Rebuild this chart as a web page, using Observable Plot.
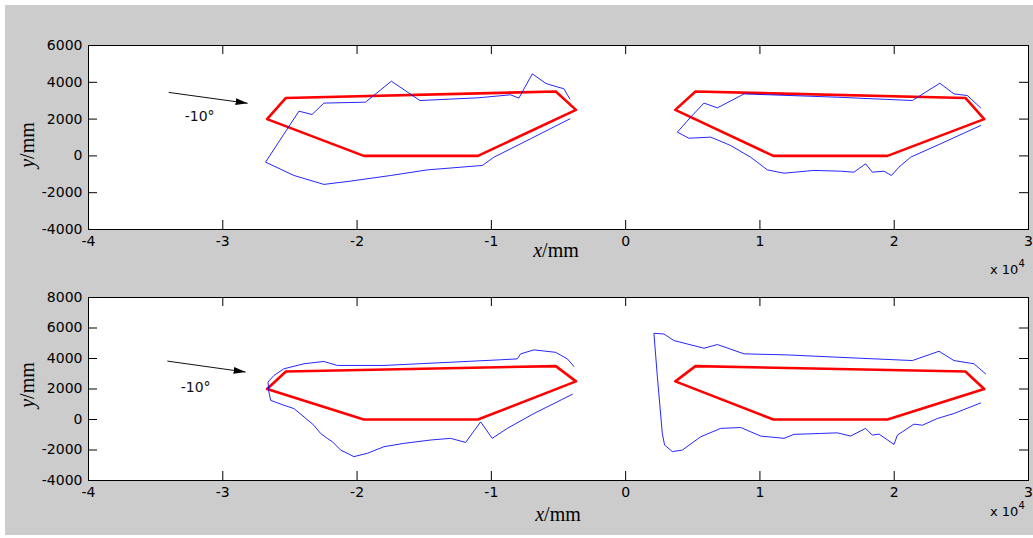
<!DOCTYPE html>
<html>
<head>
<meta charset="utf-8">
<script src="https://cdn.jsdelivr.net/npm/d3@7"></script>
<script src="https://cdn.jsdelivr.net/npm/@observablehq/plot@0.6"></script>
<style>
  body { margin: 0; background: white; }
  #fig { position: relative; width: 1033px; height: 538px; background: white; overflow: hidden; }
  #bg { position: absolute; left: 5px; top: 5px; width: 1028px; height: 530px; background: #cccccc; }
  .panel { position: absolute; left: 0; }
  .xlab, .ylab { position: absolute; font-family: "Liberation Serif", "Times New Roman", serif; font-size: 20px; color: #000; white-space: nowrap; line-height: 1; }
  .ylab { transform: translate(-50%, -50%) rotate(-90deg); }
  .xlab { transform: translate(-50%, 0); }
  .exp { position: absolute; font-family: "DejaVu Sans", Arial, sans-serif; font-size: 13px; color: #000; white-space: nowrap; line-height: 1; }
  .exp sup { font-size: 10px; position: relative; top: -2px; }
</style>
</head>
<body>
<div id="fig"><div id="bg"></div></div>
<script>
// ---- data ----
const xTicks = [-40000, -30000, -20000, -10000, 0, 10000, 20000, 30000];
const yTicksTop = [-4000, -2000, 0, 2000, 4000, 6000];
const yTicksBottom = [-4000, -2000, 0, 2000, 4000, 6000, 8000];

// red design outlines (same in both panels)
const redLeft = [[-26700,2000],[-25300,3150],[-5200,3500],[-3700,2500],[-11000,0],[-19500,0],[-26700,2000]];
const redRight = [[26700,2000],[25300,3150],[5200,3500],[3700,2500],[11000,0],[19500,0],[26700,2000]];

// blue measured outlines, top panel
const blueTopLeft = [[-4160,3100],[-4600,3650],[-5710,3880],[-5960,3950],[-6950,4460],[-7950,3140],[-8570,3320],[-10920,3160],[-15320,3010],[-17450,4060],[-19370,2920],[-22470,2870],[-23350,2250],[-24330,2430],[-26815,-340],[-24700,-1065],[-22470,-1550],[-20480,-1370],[-17500,-1065],[-14770,-760],[-10670,-520],[-9810,-70],[-7080,930],[-4150,2015]];
const blueTopRight = [[26435,2610],[25450,3280],[24450,3370],[23400,3950],[21350,3010],[15765,3190],[8815,3370],[6830,2610],[5835,2870],[4835,2100],[3850,1290],[4715,960],[6330,1020],[7820,565],[9300,-70],[9800,-340],[10550,-760],[11790,-940],[14020,-790],[16015,-830],[17000,-885],[17870,-430],[18370,-885],[19235,-830],[19795,-1065],[20350,-615],[21220,-70],[23455,660],[26435,1650]];

// blue measured outlines, bottom panel
const blueBottomLeft = [[-3850,3475],[-4340,3975],[-5215,4405],[-6830,4565],[-7820,4305],[-8070,3975],[-9315,3915],[-13035,3755],[-18000,3545],[-21470,3545],[-22470,3805],[-23950,3655],[-25450,3325],[-26195,2885],[-26635,2455],[-26565,1805],[-26435,1255],[-25450,935],[-24700,715],[-23950,170],[-23215,-375],[-22715,-915],[-22220,-1235],[-21840,-1455],[-21220,-2005],[-20235,-2435],[-19235,-2215],[-18000,-1785],[-16515,-1565],[-14520,-1345],[-13035,-1235],[-11915,-1505],[-10800,-155],[-9935,-1235],[-8815,-585],[-6830,395],[-5345,1045],[-3970,1655]];
const blueBottomRight = [[26805,2995],[25935,3655],[24450,3865],[23335,4475],[21350,3865],[15765,4085],[12035,4235],[8815,4305],[6830,4915],[5835,4675],[3600,5175],[2850,5605],[2105,5655],[2365,2775],[2730,-915],[2900,-1675],[3480,-2105],[4220,-2005],[5585,-1135],[7070,-585],[8565,-525],[10050,-1085],[11790,-1235],[12535,-975],[14520,-915],[15765,-875],[16750,-1085],[17870,-585],[18370,-1025],[18865,-955],[19985,-1635],[20235,-1025],[21470,-305],[22100,-375],[23215,65],[24450,395],[26435,1085]];

// wind-direction arrows and labels
const arrowTop = [{x1: -34030, y1: 3450, x2: -28150, y2: 2860}];
const arrowBottom = [{x1: -34130, y1: 3830, x2: -28300, y2: 3110}];
const arrowLabelTop = [{x: -31720, y: 2150, text: "-10°"}];
const arrowLabelBottom = [{x: -32020, y: 2130, text: "-10°"}];

// ---- drawing ----
function arrowHead(color, context) {
  const doc = (context && context.document) || document;
  const ns = "http://www.w3.org/2000/svg";
  const marker = doc.createElementNS(ns, "marker");
  marker.setAttribute("viewBox", "-12 -4 12 8");
  marker.setAttribute("markerWidth", 12);
  marker.setAttribute("markerHeight", 8);
  marker.setAttribute("markerUnits", "userSpaceOnUse");
  marker.setAttribute("orient", "auto");
  marker.setAttribute("refX", 0);
  marker.setAttribute("refY", 0);
  const p = doc.createElementNS(ns, "path");
  p.setAttribute("d", "M-12,-3.5L0,0L-12,3.5Z");
  p.setAttribute("fill", "black");
  p.setAttribute("stroke", "none");
  marker.appendChild(p);
  return marker;
}

function panel({height, marginTop, marginBottom, yDomain, yTicks, blueL, blueR, arrow, arrowLabel}) {
  const marginLeft = 88, marginRight = 5, width = 1033;
  const fw = width - marginLeft - marginRight;
  const fh = height - marginTop - marginBottom;
  const T = 9;
  const xy = {x: d => d[0], y: d => d[1]};
  return Plot.plot({
    width, height, marginLeft, marginRight, marginTop, marginBottom,
    style: {background: "transparent", fontFamily: "'DejaVu Sans', Arial, sans-serif", fontSize: "14px", color: "black", overflow: "visible"},
    x: {domain: [-40000, 30000]},
    y: {domain: yDomain},
    marks: [
      Plot.frame({fill: "white", stroke: "none"}),
      Plot.line(redLeft, {...xy, stroke: "#ff0000", strokeWidth: 2.6, curve: "linear"}),
      Plot.line(redRight, {...xy, stroke: "#ff0000", strokeWidth: 2.6, curve: "linear"}),
      Plot.line(blueL, {...xy, stroke: "#0000ff", strokeWidth: 1, strokeOpacity: 0.85}),
      Plot.line(blueR, {...xy, stroke: "#0000ff", strokeWidth: 1, strokeOpacity: 0.85}),
      Plot.link(arrow, {x1: "x1", y1: "y1", x2: "x2", y2: "y2", stroke: "#111", strokeWidth: 1, markerEnd: arrowHead}),
      Plot.text(arrowLabel, {x: "x", y: "y", text: "text", fill: "#111", fontSize: 14}),
      Plot.tickX(xTicks, {x: d => d, insetTop: fh - T, stroke: "black"}),
      Plot.tickX(xTicks, {x: d => d, insetBottom: fh - T, stroke: "black"}),
      Plot.tickY(yTicks, {y: d => d, insetRight: fw - T, stroke: "black"}),
      Plot.tickY(yTicks, {y: d => d, insetLeft: fw - T, stroke: "black"}),
      Plot.axisX(xTicks, {tickSize: 0, tickPadding: 7, tickFormat: d => String(d / 10000), label: null, fill: "black"}),
      Plot.axisY(yTicks, {tickSize: 0, tickPadding: 6, tickFormat: d => String(d), label: null, fill: "black"}),
      Plot.frame({stroke: "black", strokeWidth: 1})
    ]
  });
}

const fig = document.getElementById("fig");

const p1 = panel({height: 290, marginTop: 45, marginBottom: 61, yDomain: [-4000, 6000], yTicks: yTicksTop,
  blueL: blueTopLeft, blueR: blueTopRight, arrow: arrowTop, arrowLabel: arrowLabelTop});
p1.classList.add("panel"); p1.style.top = "0px"; p1.style.position = "absolute";
fig.appendChild(p1);

const p2 = panel({height: 248, marginTop: 7, marginBottom: 58, yDomain: [-4000, 8000], yTicks: yTicksBottom,
  blueL: blueBottomLeft, blueR: blueBottomRight, arrow: arrowBottom, arrowLabel: arrowLabelBottom});
p2.classList.add("panel"); p2.style.top = "290px"; p2.style.position = "absolute";
fig.appendChild(p2);

// axis labels & exponent notes
function addLabel(cls, html, left, top) {
  const d = document.createElement("div");
  d.className = cls; d.innerHTML = html;
  d.style.left = left + "px"; d.style.top = top + "px";
  fig.appendChild(d);
}
addLabel("xlab", "<i>x</i>/mm", 556, 240);
addLabel("xlab", "<i>x</i>/mm", 558, 504);
addLabel("ylab", "<i>y</i>/mm", 27, 145);
addLabel("ylab", "<i>y</i>/mm", 27, 385);
addLabel("exp", "x 10<sup>4</sup>", 990, 261);
addLabel("exp", "x 10<sup>4</sup>", 990, 503);
</script>
</body>
</html>
